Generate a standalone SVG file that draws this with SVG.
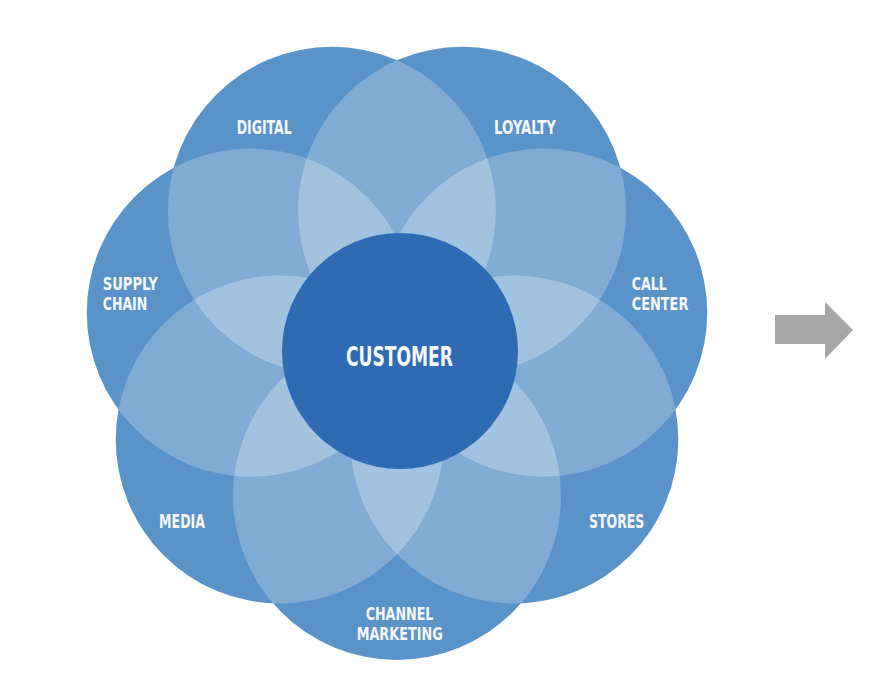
<svg xmlns="http://www.w3.org/2000/svg" xmlns:xlink="http://www.w3.org/1999/xlink" width="872" height="694" viewBox="0 0 872 694">
<style>
.petal{fill:#5a93c7}
.o2{fill:#80acd4}
.o3{fill:#a2c3e0}
.hub{fill:#2f6bb2}
.lbl{font-family:"Liberation Sans Narrow","DejaVu Sans Condensed","Liberation Sans",sans-serif;font-weight:bold;font-size:20px;fill:#f5f8fc}
.two{font-size:17.5px}
.big{font-size:26px}
.arrow{fill:#a6a6a6}
</style>
<defs>
<circle id="g0" cx="397" cy="496" r="164"/>
<circle id="g1" cx="279.73" cy="439.52" r="164"/>
<circle id="g2" cx="250.76" cy="312.62" r="164"/>
<circle id="g3" cx="331.92" cy="210.85" r="164"/>
<circle id="g4" cx="462.08" cy="210.85" r="164"/>
<circle id="g5" cx="543.24" cy="312.62" r="164"/>
<circle id="g6" cx="514.27" cy="439.52" r="164"/>
<clipPath id="c0"><use href="#g0"/></clipPath>
<clipPath id="c1"><use href="#g1"/></clipPath>
<clipPath id="c2"><use href="#g2"/></clipPath>
<clipPath id="c3"><use href="#g3"/></clipPath>
<clipPath id="c4"><use href="#g4"/></clipPath>
<clipPath id="c5"><use href="#g5"/></clipPath>
<clipPath id="c6"><use href="#g6"/></clipPath>
</defs>

<g id="node-channel-marketing">
<use href="#g0" class="petal"/>
<text class="lbl two" x="365.7" y="619.5" textLength="67.7" lengthAdjust="spacingAndGlyphs">CHANNEL</text>
<text class="lbl two" x="356.7" y="640" textLength="86" lengthAdjust="spacingAndGlyphs">MARKETING</text>
</g>
<g id="node-media">
<use href="#g1" class="petal"/>
<text class="lbl" x="159" y="527.7" textLength="46" lengthAdjust="spacingAndGlyphs">MEDIA</text>
</g>
<g id="node-supply-chain">
<use href="#g2" class="petal"/>
<text class="lbl two" x="102.7" y="289.5" textLength="55" lengthAdjust="spacingAndGlyphs">SUPPLY</text>
<text class="lbl two" x="102.7" y="310" textLength="44.6" lengthAdjust="spacingAndGlyphs">CHAIN</text>
</g>
<g id="node-digital">
<use href="#g3" class="petal"/>
<text class="lbl" x="236.7" y="134" textLength="55" lengthAdjust="spacingAndGlyphs">DIGITAL</text>
</g>
<g id="node-loyalty">
<use href="#g4" class="petal"/>
<text class="lbl" x="494" y="134.3" textLength="62" lengthAdjust="spacingAndGlyphs">LOYALTY</text>
</g>
<g id="node-call-center">
<use href="#g5" class="petal"/>
<text class="lbl two" x="631.7" y="289.5" textLength="35" lengthAdjust="spacingAndGlyphs">CALL</text>
<text class="lbl two" x="631.7" y="310" textLength="56.7" lengthAdjust="spacingAndGlyphs">CENTER</text>
</g>
<g id="node-stores">
<use href="#g6" class="petal"/>
<text class="lbl" x="589" y="528" textLength="55.3" lengthAdjust="spacingAndGlyphs">STORES</text>
</g>

<g id="overlaps">
<use href="#g1" class="o2" clip-path="url(#c0)"/>
<use href="#g2" class="o2" clip-path="url(#c1)"/>
<use href="#g3" class="o2" clip-path="url(#c2)"/>
<use href="#g4" class="o2" clip-path="url(#c3)"/>
<use href="#g5" class="o2" clip-path="url(#c4)"/>
<use href="#g6" class="o2" clip-path="url(#c5)"/>
<use href="#g0" class="o2" clip-path="url(#c6)"/>
<use href="#g2" class="o2" clip-path="url(#c0)"/>
<use href="#g3" class="o2" clip-path="url(#c1)"/>
<use href="#g4" class="o2" clip-path="url(#c2)"/>
<use href="#g5" class="o2" clip-path="url(#c3)"/>
<use href="#g6" class="o2" clip-path="url(#c4)"/>
<use href="#g0" class="o2" clip-path="url(#c5)"/>
<use href="#g1" class="o2" clip-path="url(#c6)"/>
<g clip-path="url(#c6)"><use href="#g0" class="o3" clip-path="url(#c1)"/></g>
<g clip-path="url(#c0)"><use href="#g1" class="o3" clip-path="url(#c2)"/></g>
<g clip-path="url(#c1)"><use href="#g2" class="o3" clip-path="url(#c3)"/></g>
<g clip-path="url(#c2)"><use href="#g3" class="o3" clip-path="url(#c4)"/></g>
<g clip-path="url(#c3)"><use href="#g4" class="o3" clip-path="url(#c5)"/></g>
<g clip-path="url(#c4)"><use href="#g5" class="o3" clip-path="url(#c6)"/></g>
<g clip-path="url(#c5)"><use href="#g6" class="o3" clip-path="url(#c0)"/></g>
</g>

<g id="node-customer">
<circle class="hub" cx="400" cy="351" r="118"/>
<text class="lbl big" x="346" y="366" textLength="107" lengthAdjust="spacingAndGlyphs">CUSTOMER</text>
</g>

<g id="connectors">
<polygon class="arrow" points="775,315 825,315 825,302 853,330 825,359 825,344 775,344"/>
</g>
</svg>
